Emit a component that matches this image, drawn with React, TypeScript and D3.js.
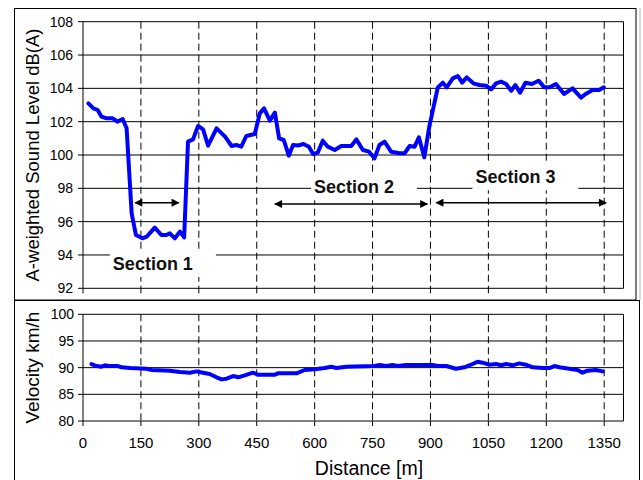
import * as d3 from "d3";

// sound level trace (top panel)
const levelDist = [14, 27, 38, 48, 61, 77, 89, 103, 113, 126, 137, 154, 165, 186, 203, 216, 225, 238, 251, 262, 272, 285, 298, 311, 324, 346, 368, 385, 397, 410, 423, 445, 458, 469, 484, 497, 508, 520, 533, 544, 557, 571, 585, 596, 608, 621, 634, 652, 669, 695, 708, 725, 741, 755, 768, 781, 798, 820, 833, 846, 859, 870, 884, 897, 919, 932, 942, 958, 971, 982, 994, 1011, 1027, 1044, 1057, 1070, 1083, 1096, 1109, 1120, 1132, 1146, 1163, 1180, 1195, 1209, 1225, 1246, 1268, 1290, 1302, 1320, 1337, 1349];
const levelDb = [103.1, 102.8, 102.7, 102.3, 102.2, 102.2, 102.0, 102.15, 101.6, 96.5, 95.2, 95.0, 95.1, 95.64, 95.2, 95.2, 95.3, 95.0, 95.4, 95.06, 100.8, 100.94, 101.74, 101.54, 100.56, 101.6, 101.1, 100.54, 100.6, 100.5, 101.14, 101.26, 102.5, 102.8, 102.06, 102.54, 101.0, 100.9, 99.96, 100.6, 100.57, 100.66, 100.5, 100.06, 100.14, 100.86, 100.5, 100.3, 100.54, 100.54, 100.94, 100.3, 100.2, 99.8, 100.6, 100.8, 100.2, 100.1, 100.1, 100.54, 100.5, 101.06, 99.86, 101.7, 104.06, 104.34, 104.06, 104.6, 104.74, 104.34, 104.66, 104.3, 104.2, 104.16, 103.94, 104.3, 104.4, 104.26, 103.86, 104.2, 103.74, 104.34, 104.26, 104.46, 104.06, 104.06, 104.26, 103.66, 104.0, 103.44, 103.66, 103.9, 103.9, 104.06];

// velocity trace (bottom panel)
const velDist = [22, 35, 48, 57, 65, 91, 100, 122, 165, 178, 225, 251, 277, 294, 311, 328, 346, 359, 372, 389, 402, 419, 440, 453, 484, 497, 505, 553, 574, 600, 626, 643, 656, 682, 755, 768, 785, 802, 815, 837, 906, 919, 941, 966, 988, 1005, 1022, 1035, 1053, 1070, 1083, 1096, 1113, 1130, 1147, 1165, 1190, 1208, 1221, 1234, 1247, 1268, 1281, 1294, 1307, 1328, 1346];
const velKmh = [90.68, 90.3, 90.18, 90.44, 90.3, 90.3, 90.07, 89.93, 89.8, 89.56, 89.43, 89.18, 89.05, 89.3, 89.05, 88.8, 88.19, 87.8, 87.93, 88.43, 88.19, 88.56, 89.05, 88.68, 88.68, 88.68, 88.94, 88.94, 89.56, 89.69, 89.93, 90.18, 89.93, 90.18, 90.3, 90.5, 90.3, 90.5, 90.3, 90.5, 90.5, 90.3, 90.3, 89.8, 90.07, 90.55, 91.1, 90.93, 90.55, 90.68, 90.44, 90.68, 90.44, 90.8, 90.55, 90.07, 89.93, 89.93, 90.3, 90.07, 89.93, 89.69, 89.56, 89.05, 89.43, 89.56, 89.3];

const distTicks = [0, 150, 300, 450, 600, 750, 900, 1050, 1200, 1350];
const levelTicks = [92, 94, 96, 98, 100, 102, 104, 106, 108];
const velTicks = [80, 85, 90, 95, 100];

// section annotations (distance / dB units)
const sectionNames = ["Section 1", "Section 2", "Section 3"];
const sectionFrom = [135, 497, 915];
const sectionTo = [248, 892, 1355];
const sectionArrowDb = [97.14, 97.06, 97.14];
const sectionLabelDist = [181, 702, 1120];
const sectionLabelDb = [93.1, 97.7, 98.3];

const FONT = "'Liberation Sans', Arial, sans-serif";
const BLUE = "#0000ff";

const x = d3.scaleLinear().domain([0, 1400]).range([83, 623.5]);
const yTop = d3.scaleLinear().domain([92, 108]).range([288.3, 21.7]);
const yBot = d3.scaleLinear().domain([80, 100]).range([421, 314.3]);

function Panel({ y, ticks, xs, ys }) {
    const [y0, y1] = y.range();
    const line = d3.line<number>().x((d) => x(xs[d])).y((d) => y(ys[d]));
    return (
        <g>
            {distTicks.filter((t) => t > 0).map((t) => (
                <line key={`v${t}`} x1={x(t)} x2={x(t)} y1={y1} y2={y0} stroke="#000" strokeDasharray="7,4" />
            ))}
            {distTicks.map((t) => (
                <line key={`xt${t}`} x1={x(t)} x2={x(t)} y1={y0} y2={y0 + 5} stroke="#000" />
            ))}
            {ticks.map((t) => (
                <g key={`h${t}`}>
                    <line x1={x(0)} x2={x(1400)} y1={y(t)} y2={y(t)} stroke="#000" />
                    <line x1={x(0) - 5} x2={x(0)} y1={y(t)} y2={y(t)} stroke="#000" />
                </g>
            ))}
            <line x1={x(0)} x2={x(0)} y1={y1} y2={y0} stroke="#000" />
            <line x1={x(1400)} x2={x(1400)} y1={y1} y2={y0} stroke="#000" />
            <path d={line(d3.range(xs.length)) || ""} fill="none" stroke={BLUE} strokeWidth={4} strokeLinejoin="round" strokeLinecap="round" />
        </g>
    );
}

function Sections() {
    return (
        <g>
            {sectionNames.map((name, i) => {
                const cx = x(sectionLabelDist[i]);
                const by = yTop(sectionLabelDb[i]);
                const ay = yTop(sectionArrowDb[i]);
                return (
                    <g key={name}>
                        <rect x={cx - 43} y={by - 20} width={106} height={27} fill="#fff" />
                        <text x={cx} y={by} textAnchor="middle" fontFamily={FONT} fontWeight="bold" fontSize={18} fill="#111">{name}</text>
                        <line x1={x(sectionFrom[i])} x2={x(sectionTo[i])} y1={ay} y2={ay} stroke="#000" strokeWidth={1.5}
                            markerStart="url(#ah)" markerEnd="url(#ah)" />
                    </g>
                );
            })}
        </g>
    );
}

export default function App() {
    return (
        <svg width={643} height={480} style={{ position: "absolute", left: 0, top: 0, background: "#fff" }}>
            <defs>
                <marker id="ah" viewBox="0 0 10 10" refX="9" refY="5" markerWidth="9" markerHeight="8" markerUnits="userSpaceOnUse" orient="auto-start-reverse">
                    <path d="M0,0L10,5L0,10z" fill="#000" />
                </marker>
            </defs>
            <rect x={0} y={0} width={643} height={480} fill="#fff" />
            <rect x={14.5} y={8.5} width={621.5} height={291.5} fill="none" stroke="#000" />
            <line x1={640} x2={640} y1={8} y2={300} stroke="#bbb" />
            <rect x={14.5} y={300.5} width={625} height={190} fill="none" stroke="#000" />

            {/* top panel */}
            <Panel y={yTop} ticks={levelTicks} xs={levelDist} ys={levelDb} />
            <Sections />
            <g fontFamily={FONT} fontSize={14} fill="#000">
                {levelTicks.map((t) => (
                    <text key={t} x={73} y={yTop(t)} dy="0.35em" textAnchor="end">{t}</text>
                ))}
            </g>
            <text transform={`translate(38.5,${(yTop(92) + yTop(108)) / 2}) rotate(-90)`} textAnchor="middle"
                fontFamily={FONT} fontSize={18.5}>A-weighted Sound Level dB(A)</text>

            {/* bottom panel */}
            <Panel y={yBot} ticks={velTicks} xs={velDist} ys={velKmh} />
            <g fontFamily={FONT} fontSize={14} fill="#000">
                {velTicks.map((t) => (
                    <text key={t} x={74} y={yBot(t)} dy="0.35em" textAnchor="end">{t}</text>
                ))}
            </g>
            <g fontFamily={FONT} fontSize={15} fill="#000">
                {distTicks.map((t) => (
                    <text key={t} x={x(t)} y={448} textAnchor="middle">{t}</text>
                ))}
            </g>
            <text transform={`translate(38.5,${(yBot(80) + yBot(100)) / 2}) rotate(-90)`} textAnchor="middle"
                fontFamily={FONT} fontSize={19}>Velocity km/h</text>
            <text x={369} y={475} textAnchor="middle" fontFamily={FONT} fontSize={19.5}>Distance [m]</text>
        </svg>
    );
}
